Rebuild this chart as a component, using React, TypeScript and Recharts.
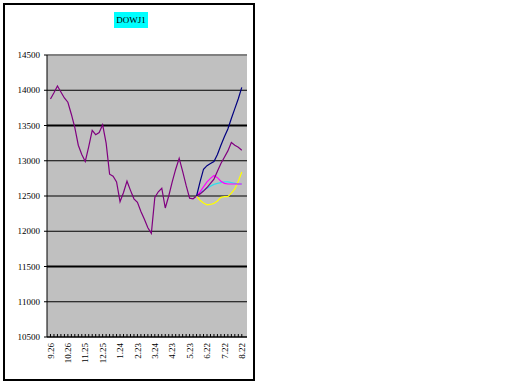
import React from "react";
import {
  LineChart,
  Line,
  XAxis,
  YAxis,
  CartesianGrid,
  ReferenceLine,
} from "recharts";

// month labels, one every 5 points
const monthLabels = [
  "9.26", "10.26", "11.25", "12.25", "1.24", "2.23",
  "3.24", "4.23", "5.23", "6.22", "7.22", "8.22",
];
const labelEvery = 5;

const yTicks = [10500, 11000, 11500, 12000, 12500, 13000, 13500, 14000, 14500];

// actual index, points 0..42
const dowActual = [
  13876, 13965, 14060, 13975, 13890, 13830, 13660, 13470, 13220, 13090,
  12990, 13200, 13430, 13370, 13400, 13510, 13250, 12810, 12780, 12700,
  12420, 12550, 12710, 12580, 12460, 12410, 12280, 12170, 12050, 11970,
  12480, 12560, 12610, 12330, 12500, 12700, 12880, 13035, 12850, 12650,
  12470, 12460, 12500,
];

// projections, starting at point 42
const forecastStart = 42;
const projNavy = [
  12500, 12700, 12880, 12930, 12960, 12990, 13090, 13220, 13340, 13450,
  13600, 13740, 13880, 14040,
];
const projPurple = [
  12500, 12530, 12570, 12620, 12680, 12740, 12850, 12960, 13050, 13140,
  13260, 13220, 13190, 13150,
];
const projPink = [
  12500, 12560, 12630, 12700, 12750, 12790, 12760, 12710, 12680, 12670,
  12670, 12670, 12670, 12670,
];
const projCyan = [
  12500, 12540, 12580, 12610, 12640, 12665, 12680, 12690, 12700, 12700,
  12690, 12680, 12670, 12670,
];
const projYellow = [
  12500, 12440, 12400, 12375, 12380, 12395, 12430, 12480, 12490, 12490,
  12540, 12600, 12710, 12840,
];

const total = forecastStart + projNavy.length;
const pick = (arr: number[], i: number, start = 0) =>
  i >= start && i - start < arr.length ? arr[i - start] : null;

const data = Array.from({ length: total }, (_, i) => ({
  i,
  actual: pick(dowActual, i),
  navy: pick(projNavy, i, forecastStart),
  purple: pick(projPurple, i, forecastStart),
  pink: pick(projPink, i, forecastStart),
  cyan: pick(projCyan, i, forecastStart),
  yellow: pick(projYellow, i, forecastStart),
}));

const xTicks = data.map((d) => d.i);
const font = "'Liberation Serif', 'Times New Roman', serif";

function XTick(props: any) {
  const { x, y, payload } = props;
  const idx = payload.value as number;
  const showLabel = idx % labelEvery === 0;
  const label = monthLabels[idx / labelEvery];
  return (
    <g>
      <line x1={x} y1={y} x2={x} y2={y - 3} stroke="#000" />
      {showLabel && label && (
        <text
          x={x}
          y={y + 6}
          transform={`rotate(-90, ${x}, ${y + 6})`}
          textAnchor="end"
          dy="0.35em"
          fontSize={9}
          fontFamily={font}
          fill="#000"
        >
          {label}
        </text>
      )}
    </g>
  );
}

export default function App() {
  return (
    <div
      style={{
        position: "absolute",
        left: 0,
        top: 0,
        width: 512,
        height: 384,
        background: "#fff",
      }}
    >
      <div
        style={{
          position: "absolute",
          left: 3,
          top: 3,
          width: 248,
          height: 374,
          border: "2px solid #000",
        }}
      />
      <div
        style={{
          position: "absolute",
          left: 114,
          top: 12,
          width: 34,
          height: 16,
          background: "#00ffff",
          fontFamily: font,
          fontSize: 9,
          lineHeight: "16px",
          textAlign: "center",
          color: "#000",
        }}
      >
        DOWJ1
      </div>
      <div style={{ position: "absolute", left: 0, top: 0 }}>
        <LineChart
          width={260}
          height={384}
          data={data}
          margin={{ top: 55, right: 13, bottom: 7, left: 0 }}
        >
          <CartesianGrid
            vertical={false}
            stroke="#000"
            fill="#c0c0c0"
            strokeWidth={1}
          />
          <XAxis
            dataKey="i"
            type="number"
            domain={[-1, 56.5]}
            ticks={xTicks}
            interval={0}
            height={40}
            tickSize={0}
            tickMargin={0}
            tickLine={false}
            axisLine={{ stroke: "#000" }}
            tick={<XTick />}
          />
          <YAxis
            domain={[10500, 14500]}
            ticks={yTicks}
            interval={0}
            width={47}
            tickSize={3}
            tickMargin={4}
            axisLine={{ stroke: "#000" }}
            tickLine={{ stroke: "#000" }}
            tick={{ fontSize: 9, fontFamily: font, fill: "#000" }}
          />
          <ReferenceLine y={13500} stroke="#000" strokeWidth={2} />
          <ReferenceLine y={11500} stroke="#000" strokeWidth={2} />
          <ReferenceLine y={14500} stroke="#808080" strokeWidth={2} />
          <Line dataKey="actual" stroke="#800080" strokeWidth={1.2} dot={false} isAnimationActive={false} />
          <Line dataKey="yellow" stroke="#ffff00" strokeWidth={1.2} dot={false} isAnimationActive={false} />
          <Line dataKey="cyan" stroke="#33ddee" strokeWidth={1.2} dot={false} isAnimationActive={false} />
          <Line dataKey="pink" stroke="#ff00ff" strokeWidth={1.2} dot={false} isAnimationActive={false} />
          <Line dataKey="purple" stroke="#800080" strokeWidth={1.2} dot={false} isAnimationActive={false} />
          <Line dataKey="navy" stroke="#000080" strokeWidth={1.2} dot={false} isAnimationActive={false} />
        </LineChart>
      </div>
    </div>
  );
}
